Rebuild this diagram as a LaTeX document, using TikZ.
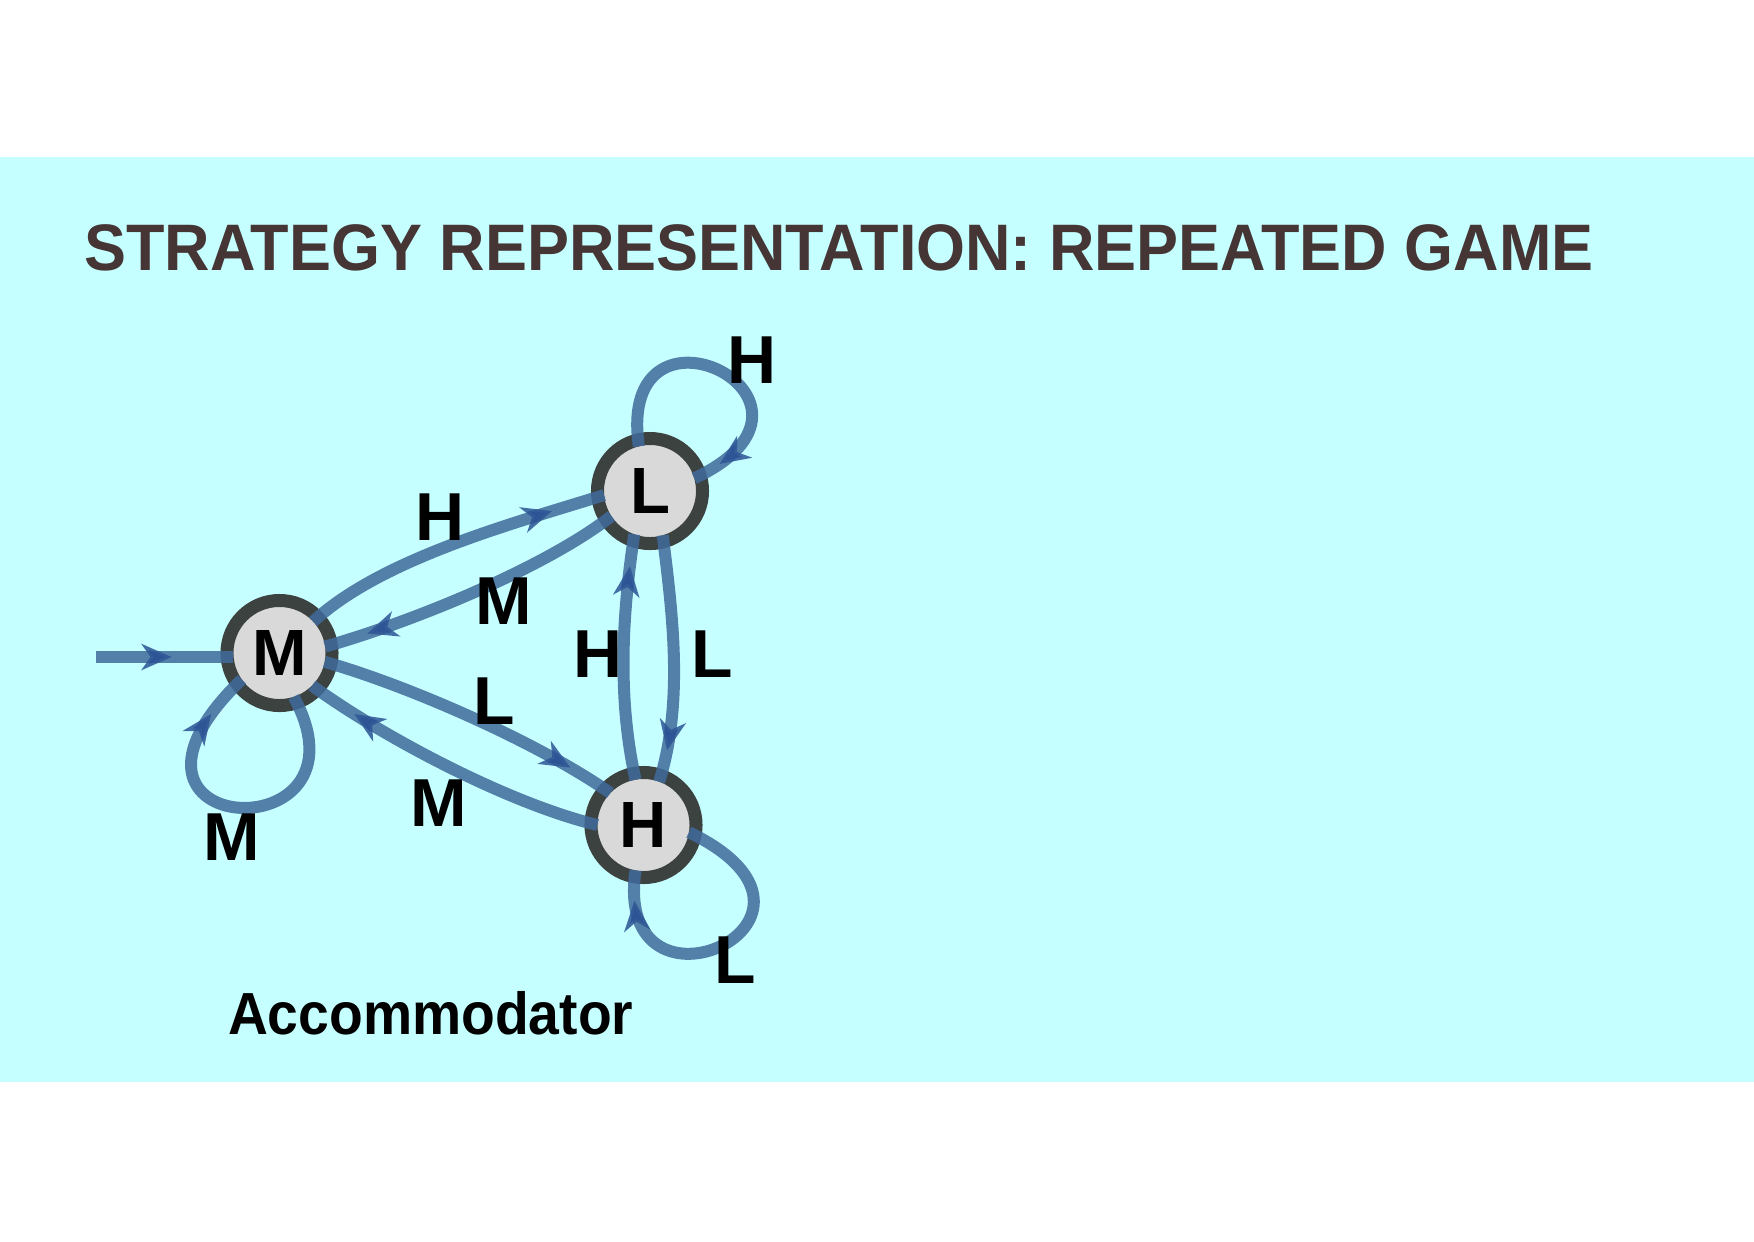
\documentclass[tikz,border=0pt]{standalone}
\usepackage{fontspec}
\setmainfont{Liberation Sans}
\usetikzlibrary{arrows.meta,decorations.markings}
\definecolor{bgcyan}{RGB}{198,255,255}
\definecolor{titlecol}{RGB}{69,53,53}
\definecolor{edgecol}{RGB}{64,106,155}
\definecolor{tipcol}{RGB}{45,85,150}
\definecolor{ringcol}{RGB}{60,66,64}
\definecolor{fillgray}{RGB}{217,217,217}
\tikzset{
  state/.style={circle, draw=ringcol, fill=fillgray, line width=0.13cm, minimum size=1.05cm,
    inner sep=0pt, outer sep=-0.065cm, font=\fontsize{18.6}{20}\selectfont\bfseries},
  trans/.style={draw=edgecol, draw opacity=0.85, line width=0.12cm, postaction={decorate},
    decoration={markings, mark=at position #1 with {\arrow[tipcol, opacity=0.85]{Stealth[length=0.3cm,width=0.26cm,inset=0.09cm]}}}},
  lab/.style={font=\fontsize{19.3}{21}\selectfont\bfseries, inner sep=0pt},
}
\begin{document}
\begin{tikzpicture}[x=0.01cm, y=-0.01cm]
\useasboundingbox (0,0) rectangle (1754,1241);
\fill[white] (0,0) rectangle (1754,1241);
\fill[bgcyan] (0,157) rectangle (1754,1082);
\node[font=\fontsize{18.7}{20}\selectfont\bfseries, text=titlecol, anchor=base, inner sep=0pt] (title) at (839,270.7)
  {\scalebox{0.957}[1]{STRATEGY REPRESENTATION: REPEATED GAME}};
% states
\node[state] (M) at (279.5,653) {M};
\node[state] (L) at (650,491) {L};
\node[state] (H) at (643.5,825) {H};
\coordinate (start) at (96,657);
% transitions
\draw[trans=0.55] (start) -- (start -| M.west);
\draw[trans=0.83] (M.43) .. controls (382,558) and (515,523) .. (L.185);
\draw[trans=0.86] (L.213) .. controls (545.9,567) and (415,621) .. (M.8);
\draw[trans=0.85] (M.-11) .. controls (414.5,687.6) and (542,745) .. (H.136);
\draw[trans=0.84] (H.180) .. controls (506.5,803) and (379.4,734.8) .. (M.-45);
\draw[trans=0.87] (L.-74) .. controls (673,617) and (683.5,703) .. (H.70);
\draw[trans=0.87] (H.100) .. controls (617.5,698) and (622,616) .. (L.-110);
\draw[trans=0.9] (L.104) .. controls (615,280) and (860,400) .. (L.16);
\draw[trans=0.86] (M.-72) .. controls (380,855) and (75,840) .. (M.215);
\draw[trans=0.9] (H.-9) .. controls (870,920) and (612,1035) .. (H.-100);
% labels
\node[lab] (lMLH) at (439.6,516.8) {H};
\node[lab] (lLMM) at (503.4,600.7) {M};
\node[lab] (lMHL) at (494.4,701.4) {L};
\node[lab] (lHMM) at (438.5,803) {M};
\node[lab] (lHLH) at (598.5,654.4) {H};
\node[lab] (lLHL) at (712.5,654.4) {L};
\node[lab] (lLLH) at (751.7,360.2) {H};
\node[lab] (lMMM) at (231.5,836.7) {M};
\node[lab] (lHHL) at (735,959.8) {L};
\node[font=\fontsize{16.9}{18}\selectfont\bfseries, anchor=base, inner sep=0pt] (acc) at (430.7,1034.7)
  {\scalebox{0.93}[1]{Accommodator}};
\end{tikzpicture}
\end{document}
